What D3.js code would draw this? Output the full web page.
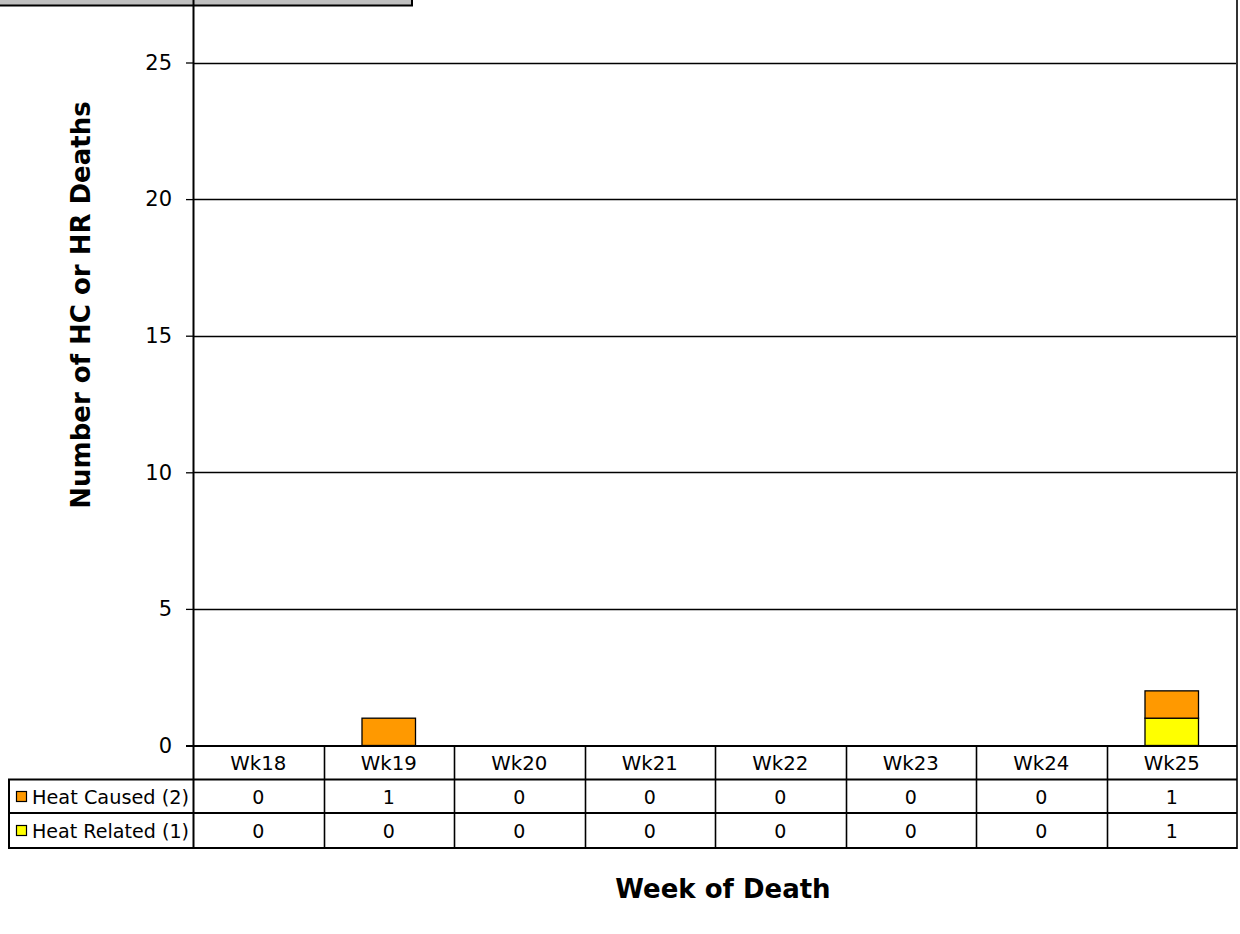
<!DOCTYPE html>
<html><head><meta charset="utf-8">
<script src="https://cdn.jsdelivr.net/npm/d3@7"></script>
<style>body{margin:0;background:#fff}svg{display:block}</style>
</head><body>
<script>
const categories = ["Wk18","Wk19","Wk20","Wk21","Wk22","Wk23","Wk24","Wk25"];
const seriesNames = ["Heat Caused (2)","Heat Related (1)"];
const heatCaused = [0,1,0,0,0,0,0,1];
const heatRelated = [0,0,0,0,0,0,0,1];
const colors = ["#ff9900","#ffff00"];
const yTicks = [0,5,10,15,20,25];

const W=1240,H=934;
const svg=d3.select("body").append("svg").attr("width",W).attr("height",H);
const left=193,right=1237,y0=745.5;
const x=d3.scaleBand().domain(categories).range([left,right]).paddingInner(0).paddingOuter(0);
const y=d3.scaleLinear().domain([0,30]).range([y0,y0-6*136.6]);
const font="DejaVu Sans";

// title box remnant
svg.append("rect").attr("x",-5).attr("y",-30).attr("width",417).attr("height",35.5)
  .attr("fill","#c0c0c0").attr("stroke","#000").attr("stroke-width",2);

// gridlines
svg.append("g").selectAll("line").data(yTicks.filter(d=>d>0)).join("line")
  .attr("x1",left).attr("x2",right).attr("y1",d=>Math.round(y(d))+0.5).attr("y2",d=>Math.round(y(d))+0.5)
  .attr("stroke","#000").attr("stroke-width",1.3);

// y axis
const yAxis=d3.axisLeft(y).tickValues(yTicks).tickSize(7).tickPadding(14).tickFormat(d3.format("d"));
const ga=svg.append("g").attr("transform",`translate(${left},0)`).call(yAxis);
ga.select(".domain").remove();
ga.selectAll(".tick line").attr("stroke","#000").attr("stroke-width",1.3);
ga.selectAll(".tick text").attr("font-family",font).attr("font-size",21).attr("fill","#000");
svg.append("line").attr("x1",left+0.5).attr("x2",left+0.5).attr("y1",-5).attr("y2",848).attr("stroke","#000").attr("stroke-width",2);
svg.append("line").attr("x1",right).attr("x2",right).attr("y1",-5).attr("y2",849).attr("stroke","#333").attr("stroke-width",2);

// stacked bars
const data=categories.map((c,i)=>({cat:c,"Heat Related (1)":heatRelated[i],"Heat Caused (2)":heatCaused[i]}));
const stack=d3.stack().keys(["Heat Related (1)","Heat Caused (2)"])(data);
const bw=x.bandwidth()*0.41;
const colorOf={"Heat Caused (2)":colors[0],"Heat Related (1)":colors[1]};
svg.append("g").selectAll("g").data(stack).join("g").attr("fill",d=>colorOf[d.key])
  .selectAll("rect").data(d=>d.filter(v=>v[1]-v[0]>0)).join("rect")
  .attr("x",d=>x(d.data.cat)+x.bandwidth()/2-bw/2).attr("width",bw)
  .attr("y",d=>y(d[1])).attr("height",d=>y(d[0])-y(d[1]))
  .attr("stroke","#000").attr("stroke-width",1.3);

// axis baseline
svg.append("line").attr("x1",left-7).attr("x2",right).attr("y1",y0+0.5).attr("y2",y0+0.5).attr("stroke","#000").attr("stroke-width",2);

// data table
const tbl=svg.append("g");
[779.5,813,848].forEach(v=>{
  tbl.append("line").attr("x1",8).attr("x2",right).attr("y1",v).attr("y2",v).attr("stroke","#000").attr("stroke-width",2);
});
tbl.append("line").attr("x1",9).attr("x2",9).attr("y1",779).attr("y2",849).attr("stroke","#000").attr("stroke-width",2);
tbl.selectAll("line.v").data(categories.slice(1)).join("line").attr("class","v")
  .attr("x1",d=>Math.round(x(d))+0.5).attr("x2",d=>Math.round(x(d))+0.5).attr("y1",y0).attr("y2",848)
  .attr("stroke","#000").attr("stroke-width",1.6);
tbl.selectAll("text.h").data(categories).join("text").attr("class","h")
  .attr("x",d=>x(d)+x.bandwidth()/2).attr("y",770).attr("text-anchor","middle")
  .attr("font-family",font).attr("font-size",19).attr("textLength",56).attr("lengthAdjust","spacingAndGlyphs").text(d=>d);
const rows=[heatCaused,heatRelated];
const rowY=[804,838];
rows.forEach((vals,r)=>{
  tbl.selectAll("text.r"+r).data(vals).join("text").attr("class","r"+r)
    .attr("x",(d,i)=>x(categories[i])+x.bandwidth()/2).attr("y",rowY[r]).attr("text-anchor","middle")
    .attr("font-family",font).attr("font-size",19).text(d=>d);
  tbl.append("rect").attr("x",16.5).attr("y",rowY[r]-12.5).attr("width",10).attr("height",10)
    .attr("fill",colors[r]).attr("stroke","#000").attr("stroke-width",1.2);
  tbl.append("text").attr("x",32).attr("y",rowY[r]).attr("font-family",font).attr("font-size",19)
    .attr("textLength",157).attr("lengthAdjust","spacingAndGlyphs").text(seriesNames[r]);
});

// axis titles
svg.append("text").attr("transform","translate(90,305) rotate(-90)").attr("text-anchor","middle")
  .attr("font-family",font).attr("font-weight","bold").attr("font-size",26).text("Number of HC or HR Deaths");
svg.append("text").attr("x",723).attr("y",898).attr("text-anchor","middle")
  .attr("font-family",font).attr("font-weight","bold").attr("font-size",26).text("Week of Death");
</script>
</body></html>
